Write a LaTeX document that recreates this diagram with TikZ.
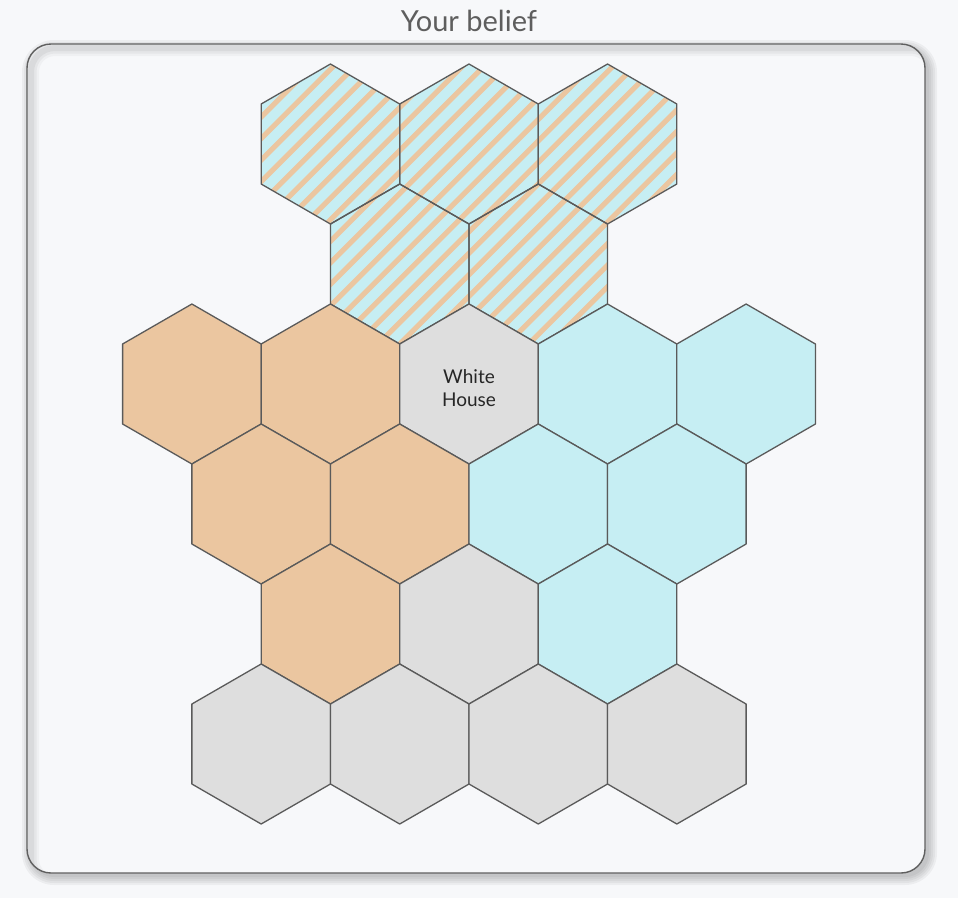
\documentclass[tikz,border=0pt]{standalone}
\usepackage{fontspec}
\setmainfont{Lato}
\definecolor{bgc}{HTML}{F7F8FA}
\definecolor{hexorange}{HTML}{EBC6A0}
\definecolor{hexblue}{HTML}{C6EEF3}
\definecolor{hexgrey}{HTML}{DEDEDE}
\definecolor{hexline}{HTML}{5A5A5A}
\definecolor{framebd}{HTML}{5F5F5F}
\definecolor{titlec}{HTML}{5E5E5E}
\newcommand{\hexshape}[2]{(#1,#2-80) -- (#1+69.28,#2-40) -- (#1+69.28,#2+40) -- (#1,#2+80) -- (#1-69.28,#2+40) -- (#1-69.28,#2-40) -- cycle}
\begin{document}
\begin{tikzpicture}[x=1pt,y=-1pt,
  hexo/.style={draw=hexline, line width=1.3pt, line join=round},
  frameshape/.style={rounded corners=24pt}]
\useasboundingbox (0,0) rectangle (958,898);
\fill[bgc] (0,0) rectangle (958,898);
% title
\node[text=titlec, font=\fontsize{29}{34}\selectfont, anchor=base] (title) at (469,31) {Your belief};
% outer shadow
\foreach \e in {0,2,4,6,8}
  \fill[black, opacity=0.045, rounded corners={(24+\e)*1pt}] (30-\e,48-\e) rectangle (929+\e,877+\e);
% frame
\fill[bgc, frameshape] (27,44) rectangle (925,873);
\begin{scope}
  \clip[frameshape] (27,44) rectangle (925,873);
  \foreach \w/\o in {16/0.03, 11/0.04, 6/0.05}
    \draw[black, opacity=\o, line width=\w pt, rounded corners=24pt] (31,48) rectangle (935,883);
\end{scope}
\draw[framebd, line width=1.4pt, frameshape] (27,44) rectangle (925,873);
% striped hexes
\begin{scope}
  \clip \hexshape{330.44}{144} \hexshape{469}{144} \hexshape{607.56}{144}
        \hexshape{399.72}{264} \hexshape{538.28}{264};
  \fill[hexblue] (240,50) rectangle (700,360);
  \foreach \k in {12,...,50}
    \draw[hexorange, line width=5.2pt] ({12.8+21.5*\k-370},370) -- ({12.8+21.5*\k-40},40);
\end{scope}
\foreach \x in {330.44,469,607.56} \draw[hexo] \hexshape{\x}{144};
\foreach \x in {399.72,538.28} \draw[hexo] \hexshape{\x}{264};
% row 3
\foreach \x/\c in {191.88/hexorange, 330.44/hexorange, 469/hexgrey, 607.56/hexblue, 746.12/hexblue}
  \filldraw[hexo, fill=\c] \hexshape{\x}{384};
% row 4
\foreach \x/\c in {261.16/hexorange, 399.72/hexorange, 538.28/hexblue, 676.84/hexblue}
  \filldraw[hexo, fill=\c] \hexshape{\x}{504};
% row 5
\foreach \x/\c in {330.44/hexorange, 469/hexgrey, 607.56/hexblue}
  \filldraw[hexo, fill=\c] \hexshape{\x}{624};
% row 6
\foreach \x in {261.16,399.72,538.28,676.84}
  \filldraw[hexo, fill=hexgrey] \hexshape{\x}{744};
\node[text=black!85, font=\fontsize{19}{23}\selectfont, align=center] (wh) at (469,388) {White\\House};
\end{tikzpicture}
\end{document}
